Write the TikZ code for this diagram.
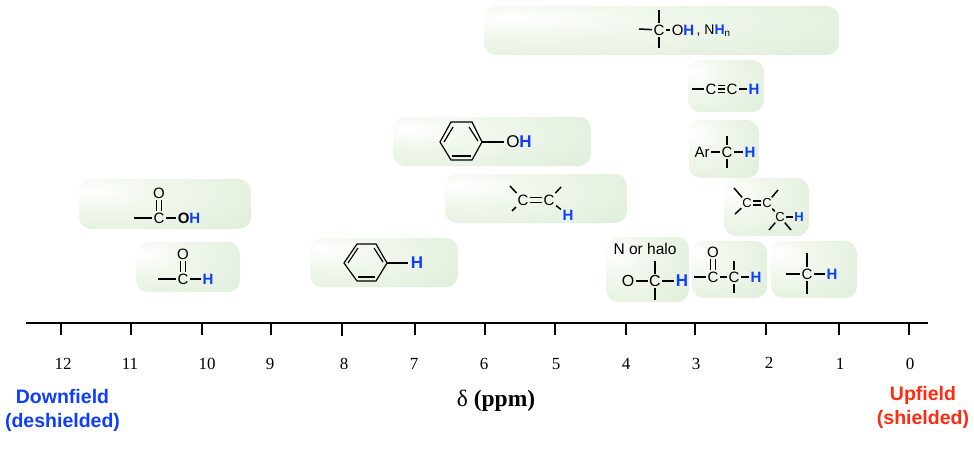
\documentclass[tikz,border=0pt]{standalone}
\usepackage{fontspec}
\setmainfont{Liberation Sans}
\newfontfamily\timesfont{Liberation Serif}
\definecolor{hblue}{HTML}{0F3DFF}
\definecolor{upred}{HTML}{FF2A10}
\definecolor{bandgreen}{HTML}{DCEBD5}
\definecolor{bandlight}{HTML}{F1F8EE}
\pgfdeclareradialshading{bandglow}{\pgfpoint{-22bp}{14bp}}{color(0bp)=(white); color(16bp)=(bandlight); color(58bp)=(bandgreen); color(100bp)=(bandgreen)}
\tikzset{
  band/.style={shading=bandglow, rounded corners=12pt},
  atom/.style={inner sep=1.5pt, font=\fontsize{15}{17}\selectfont},
  smallatom/.style={inner sep=0.8pt, font=\fontsize{13}{15}\selectfont},
  hatom/.style={atom, text=hblue, font=\fontsize{15}{17}\selectfont\bfseries},
  bond/.style={draw=black, line width=1.5pt},
  ring/.style={draw=black, line width=1.2pt},
  tick/.style={draw=black, line width=1.3pt},
  ppm/.style={inner sep=0pt, font=\timesfont\fontsize{17}{19}\selectfont},
  side/.style={inner sep=0pt, align=center, font=\fontsize{19.5}{24}\selectfont\bfseries}
}
\begin{document}
\begin{tikzpicture}[x=1pt,y=-1pt]
\useasboundingbox (0,0) rectangle (974,452);

% bands
\path[band] (484,6) rectangle (839,55);
\path[band] (688,60) rectangle (764,112);
\path[band] (689,120) rectangle (759,178);
\path[band] (393,117) rectangle (591,166);
\path[band] (445,174) rectangle (627,223);
\path[band] (724,178) rectangle (809,236);
\path[band] (606,237) rectangle (689,302);
\path[band] (692,241) rectangle (767,298);
\path[band] (771,241) rectangle (857,298);
\path[band] (79,179) rectangle (251,229);
\path[band] (136,242) rectangle (240,292);
\path[band] (310,238) rectangle (458,287);

% alcohol
\node[atom] (alcC) at (659,30) {C};
\node[atom] (alcOH) at (683,30) {O\textcolor{hblue}{\bfseries H}};
\node[atom,anchor=west,font=\fontsize{14}{16}\selectfont] (alcNH) at (695,31) {, N\textcolor{hblue}{\bfseries H}\textsubscript{n}};
\coordinate (alcL) at (639,29);
\coordinate (alcT) at (659,10);
\coordinate (alcB) at (659,48);
\draw[bond] (alcL) -- (alcC);
\draw[bond] (alcT) -- (alcC);
\draw[bond] (alcB) -- (alcC);
\draw[bond] (alcC) -- (alcOH);

% alkyne
\node[atom] (ynC) at (711,89) {C};
\node[atom] (ynD) at (732,89) {C};
\node[hatom] (ynH) at (754,89) {H};
\coordinate (ynL) at (692,89);
\draw[bond] (ynL) -- (ynC);
\draw[bond] (ynC) -- (ynD);
\draw[bond] ([yshift=3.4pt]ynC.east) -- ([yshift=3.4pt]ynD.west);
\draw[bond] ([yshift=-3.4pt]ynC.east) -- ([yshift=-3.4pt]ynD.west);
\draw[bond] (ynD) -- (ynH);

% benzylic
\node[atom] (arAr) at (702,152) {Ar};
\node[atom] (arC) at (727,152) {C};
\node[hatom] (arH) at (750,152) {H};
\coordinate (arT) at (727,136);
\coordinate (arB) at (727,168);
\draw[bond] (arAr) -- (arC);
\draw[bond] (arT) -- (arC);
\draw[bond] (arB) -- (arC);
\draw[bond] (arC) -- (arH);

% phenol
\draw[ring] (440,142) -- (451,122) -- (472,122) -- (482,142) -- (472,160) -- (451,160) -- cycle;
\draw[ring] (444,142) -- (453,127);
\draw[ring] (478,141) -- (469,127);
\draw[ring] (452,156) -- (471,156);
\coordinate (phR) at (482,142);
\node[atom,font=\fontsize{17}{19}\selectfont,inner sep=2pt] (phOH) at (519,142) {O\textcolor{hblue}{\bfseries H}};
\draw[ring] (phR) -- (phOH);

% alkene
\node[atom] (eneC) at (523,200) {C};
\node[atom] (eneD) at (549,200) {C};
\node[hatom] (eneH) at (568,215) {H};
\coordinate (eneUL) at (510,186);
\coordinate (eneDL) at (512,211);
\coordinate (eneUR) at (561,187);
\draw[bond] (eneUL) -- (eneC);
\draw[bond] (eneDL) -- (eneC);
\draw[bond] (eneUR) -- (eneD);
\draw[bond] ([yshift=2.3pt]eneC.east) -- ([yshift=2.3pt]eneD.west);
\draw[bond] ([yshift=-2.3pt]eneC.east) -- ([yshift=-2.3pt]eneD.west);
\draw[bond] (eneD) -- (eneH);

% allylic
\node[smallatom] (allC) at (747,203) {C};
\node[smallatom] (allD) at (767,203) {C};
\node[smallatom] (allE) at (780,217) {C};
\node[smallatom,text=hblue,font=\fontsize{13}{15}\selectfont\bfseries] (allH) at (799,217) {H};
\coordinate (allUL) at (734,188);
\coordinate (allDL) at (735,214);
\coordinate (allUR) at (778,190);
\coordinate (allBL) at (769,230);
\coordinate (allBR) at (791,230);
\draw[bond] (allUL) -- (allC);
\draw[bond] (allDL) -- (allC);
\draw[bond] (allUR) -- (allD);
\draw[bond] ([yshift=2.2pt]allC.east) -- ([yshift=2.2pt]allD.west);
\draw[bond] ([yshift=-2.2pt]allC.east) -- ([yshift=-2.2pt]allD.west);
\draw[bond] (allD) -- (allE);
\draw[bond] (allBL) -- (allE);
\draw[bond] (allBR) -- (allE);
\draw[bond] (allE) -- (allH);

% halo
\node[atom,font=\fontsize{15.5}{17}\selectfont] (halText) at (645,249) {N or halo};
\node[atom,font=\fontsize{16}{18}\selectfont] (halO) at (628,281) {O};
\node[atom,font=\fontsize{16}{18}\selectfont] (halC) at (655,281) {C};
\node[hatom,font=\fontsize{17}{19}\selectfont\bfseries] (halH) at (682,281) {H};
\coordinate (halT) at (655,261);
\coordinate (halB) at (655,300);
\draw[bond] (halO) -- (halC);
\draw[bond] (halT) -- (halC);
\draw[bond] (halB) -- (halC);
\draw[bond] (halC) -- (halH);

% ketone
\node[atom] (ketO) at (713,252) {O};
\node[atom] (ketC) at (713,277) {C};
\node[atom] (ketD) at (734,277) {C};
\node[hatom] (ketH) at (756,277) {H};
\coordinate (ketL) at (694,277);
\coordinate (ketT) at (734,261);
\coordinate (ketB) at (734,293);
\draw[bond] (ketL) -- (ketC);
\draw[bond] ([xshift=-2.3pt]ketO.south) -- ([xshift=-2.3pt]ketC.north);
\draw[bond] ([xshift=2.3pt]ketO.south) -- ([xshift=2.3pt]ketC.north);
\draw[bond] (ketC) -- (ketD);
\draw[bond] (ketT) -- (ketD);
\draw[bond] (ketB) -- (ketD);
\draw[bond] (ketD) -- (ketH);

% alkane
\node[atom] (aneC) at (807,274) {C};
\node[hatom] (aneH) at (832,274) {H};
\coordinate (aneL) at (786,274);
\coordinate (aneT) at (807,253);
\coordinate (aneB) at (807,294);
\draw[bond] (aneL) -- (aneC);
\draw[bond] (aneT) -- (aneC);
\draw[bond] (aneB) -- (aneC);
\draw[bond] (aneC) -- (aneH);

% acid
\node[atom] (acidO) at (159,193) {O};
\node[atom] (acidC) at (159,218) {C};
\node[atom] (acidOH) at (189,218) {\textbf{O}\textcolor{hblue}{\bfseries H}};
\coordinate (acidL) at (134,218);
\draw[bond] (acidL) -- (acidC);
\draw[bond] ([xshift=-2.3pt]acidO.south) -- ([xshift=-2.3pt]acidC.north);
\draw[bond] ([xshift=2.3pt]acidO.south) -- ([xshift=2.3pt]acidC.north);
\draw[bond] (acidC) -- (acidOH);

% aldehyde
\node[atom] (aldO) at (183,254) {O};
\node[atom] (aldC) at (183,279) {C};
\node[hatom] (aldH) at (208,279) {H};
\coordinate (aldL) at (158,279);
\draw[bond] (aldL) -- (aldC);
\draw[bond] ([xshift=-2.3pt]aldO.south) -- ([xshift=-2.3pt]aldC.north);
\draw[bond] ([xshift=2.3pt]aldO.south) -- ([xshift=2.3pt]aldC.north);
\draw[bond] (aldC) -- (aldH);

% benzene
\draw[ring] (344,263) -- (357,244) -- (376,244) -- (387,263) -- (376,281) -- (357,281) -- cycle;
\draw[ring] (348,263) -- (358,248);
\draw[ring] (383,262) -- (374,248);
\draw[ring] (358,277) -- (375,277);
\coordinate (bzR) at (387,263);
\node[hatom,font=\fontsize{17}{19}\selectfont\bfseries,inner sep=3pt] (bzH) at (417,263) {H};
\draw[ring] (bzR) -- (bzH);

% axis
\draw[line width=2.6pt] (26,323) -- (928,323);
\draw[tick] (61,324) -- (61,335);
\draw[tick] (131,324) -- (131,335);
\draw[tick] (202,324) -- (202,335);
\draw[tick] (271,324) -- (271,335);
\draw[tick] (342,324) -- (342,336);
\draw[tick] (415,324) -- (415,335);
\draw[tick] (485,324) -- (485,335);
\draw[tick] (555,324) -- (555,335);
\draw[tick] (626,324) -- (626,335);
\draw[tick] (695,324) -- (695,335);
\draw[tick] (766,324) -- (766,335);
\draw[tick] (839,324) -- (839,335);
\draw[tick] (909,324) -- (909,335);

\node[ppm] (lab12) at (63,364) {12};
\node[ppm] (lab11) at (130,364) {11};
\node[ppm] (lab10) at (207,364) {10};
\node[ppm] (lab9) at (270,364) {9};
\node[ppm] (lab8) at (344,364) {8};
\node[ppm] (lab7) at (414,364) {7};
\node[ppm] (lab6) at (484,364) {6};
\node[ppm] (lab5) at (556,364) {5};
\node[ppm] (lab4) at (626,364) {4};
\node[ppm] (lab3) at (696,364) {3};
\node[ppm] (lab2) at (769,363) {2};
\node[ppm] (lab1) at (840,364) {1};
\node[ppm] (lab0) at (910,364) {0};

\node[inner sep=0pt,font=\timesfont\fontsize{23.5}{26}\selectfont] (delta) at (496,401) {δ \textbf{(ppm)}};
\node[side,text=hblue] (down) at (62.5,410) {Downfield\\(deshielded)};
\node[side,text=upred] (up) at (923,407) {Upfield\\(shielded)};
\end{tikzpicture}
\end{document}
